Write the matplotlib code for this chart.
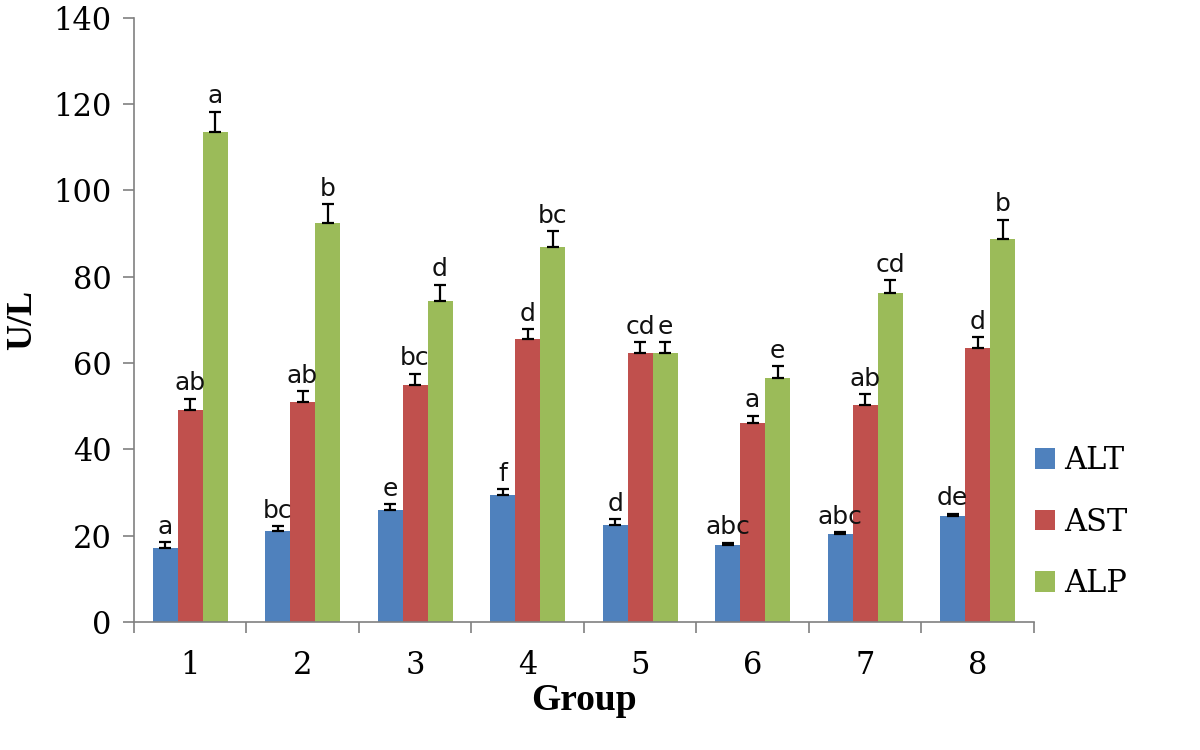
import numpy as np
import matplotlib.pyplot as plt

# values
groups = ['1', '2', '3', '4', '5', '6', '7', '8']
alt = [17.2, 21.0, 26.0, 29.5, 22.5, 17.8, 20.3, 24.5]
ast = [49.2, 51.0, 55.0, 65.5, 62.3, 46.0, 50.2, 63.5]
alp = [113.5, 92.5, 74.3, 87.0, 62.3, 56.5, 76.2, 88.7]
alt_err = [1.2, 1.2, 1.2, 1.2, 1.3, 0.5, 0.5, 0.6]
ast_err = [2.5, 2.5, 2.5, 2.3, 2.5, 1.8, 2.5, 2.5]
alp_err = [4.8, 4.3, 3.8, 3.5, 2.5, 2.7, 3.0, 4.5]
alt_lab = ['a', 'bc', 'e', 'f', 'd', 'abc', 'abc', 'de']
ast_lab = ['ab', 'ab', 'bc', 'd', 'cd', 'a', 'ab', 'd']
alp_lab = ['a', 'b', 'd', 'bc', 'e', 'e', 'cd', 'b']

series = [('ALT', alt, alt_err, alt_lab, '#4F81BD'),
          ('AST', ast, ast_err, ast_lab, '#C0504D'),
          ('ALP', alp, alp_err, alp_lab, '#9BBB59')]

fig = plt.figure(figsize=(12, 7.5), dpi=100)
ax = fig.add_axes([0.1115, 0.171, 0.750, 0.805])

x = np.arange(len(groups))
w = 0.222
for i, (name, vals, errs, labs, col) in enumerate(series):
    pos = x + (i - 1) * w
    ax.bar(pos, vals, w, color=col, label=name, zorder=2)
    ax.errorbar(pos, vals, yerr=[np.zeros(len(vals)), errs], fmt='none',
                ecolor='black', elinewidth=1.6, capsize=4.3, capthick=1.6, zorder=3)
    for p, v, e, t in zip(pos, vals, errs, labs):
        ax.text(p, v + e + 0.8, t, ha='center', va='bottom', fontsize=18,
                family='DejaVu Sans', color='#111111')

ax.set_ylim(0, 140)
ax.set_xlim(-0.5, len(groups) - 0.5)
ax.set_yticks(np.arange(0, 141, 20))
ax.set_xticks(x)
ax.set_xticklabels(groups)
ax.set_xticks(np.arange(-0.5, len(groups)), minor=True)
ax.tick_params(axis='x', which='major', length=0, pad=20)
ax.tick_params(axis='x', which='minor', length=8, color='#808080', width=1.2)
ax.tick_params(axis='y', length=8, color='#808080', width=1.2, pad=8)
for lab in ax.get_xticklabels() + ax.get_yticklabels():
    lab.set_family('DejaVu Serif')
    lab.set_fontsize(22)

for s in ['top', 'right']:
    ax.spines[s].set_visible(False)
for s in ['left', 'bottom']:
    ax.spines[s].set_color('#808080')
    ax.spines[s].set_linewidth(1.2)

ax.set_ylabel('U/L', family='Liberation Serif', fontsize=26, fontweight='bold', labelpad=10)
ax.set_xlabel('Group', family='Liberation Serif', fontsize=27, fontweight='bold', labelpad=2)

ax.legend(loc='center left', bbox_to_anchor=(1.001, 0.165), frameon=False,
          borderaxespad=0, borderpad=0,
          prop={'family': 'DejaVu Serif', 'size': 22},
          handlelength=0.65, handleheight=0.65, handletextpad=0.3, labelspacing=1.0)

fig.savefig('out.png', dpi=100)
